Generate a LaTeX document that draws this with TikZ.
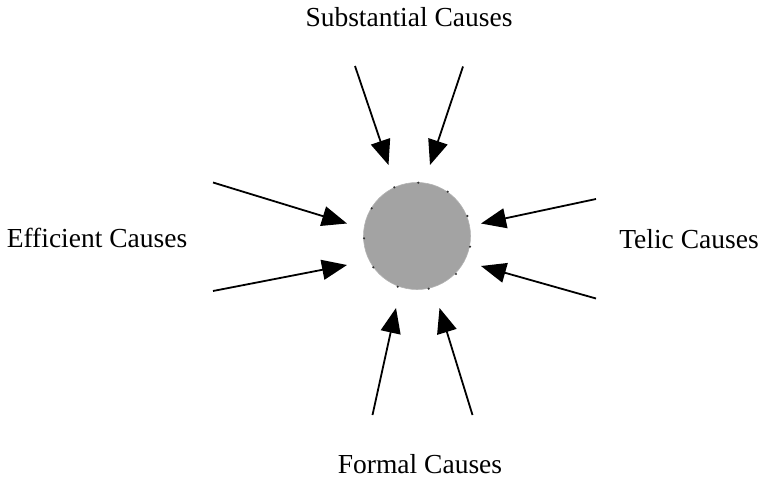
\documentclass[tikz,border=0pt]{standalone}
\usepackage{fontspec}
\setmainfont{Liberation Serif}
\usetikzlibrary{arrows.meta}
\definecolor{ballgray}{RGB}{163,163,163}
\tikzset{
  lbl/.style={font=\fontsize{27.5}{31}\selectfont, inner sep=0pt, anchor=base},
  cause/.style={line width=1.8pt, -{Triangle[length=25pt,width=20pt]}},
  pt/.style={fill=black!80, draw=none},
}
\begin{document}
\begin{tikzpicture}[x=1pt,y=-1pt]
\useasboundingbox (0,0) rectangle (763,479);
% central circle
\node[circle, minimum size=107pt, inner sep=0pt, fill=ballgray, draw=gray!60, line width=0.6pt] (ball) at (417,236) {};
\foreach \a/\b [count=\i] in {418.3/182.7, 447.7/191.7, 467.3/216, 470/246.7, 456/274, 428.7/288.7, 397.7/286.7, 373.3/267.3, 364/238.3, 371.7/208.3, 394.3/187.3}
  \fill[pt] (\a,\b) circle (1.2pt);
% labels
\node[lbl] (sub) at (409,27) {Substantial Causes};
\node[lbl] (eff) at (97,247) {Efficient Causes};
\node[lbl] (tel) at (689,248) {Telic Causes};
\node[lbl] (for) at (420,473) {Formal Causes};
% arrow endpoints
\coordinate (s1) at (355,66);   \coordinate (e1) at (388.5,165);
\coordinate (s2) at (463,66.5); \coordinate (e2) at (430,165);
\coordinate (s3) at (213,182.5);\coordinate (e3) at (347,223.5);
\coordinate (s4) at (213,291);  \coordinate (e4) at (347,265);
\coordinate (s5) at (596,199);  \coordinate (e5) at (481,223.5);
\coordinate (s6) at (596,298.5);\coordinate (e6) at (481,266);
\coordinate (s7) at (372.5,415);\coordinate (e7) at (396,308);
\coordinate (s8) at (472.5,415);\coordinate (e8) at (439.5,308);
\foreach \k in {1,...,8}
  \draw[cause] (s\k) -- (e\k);
\end{tikzpicture}
\end{document}
